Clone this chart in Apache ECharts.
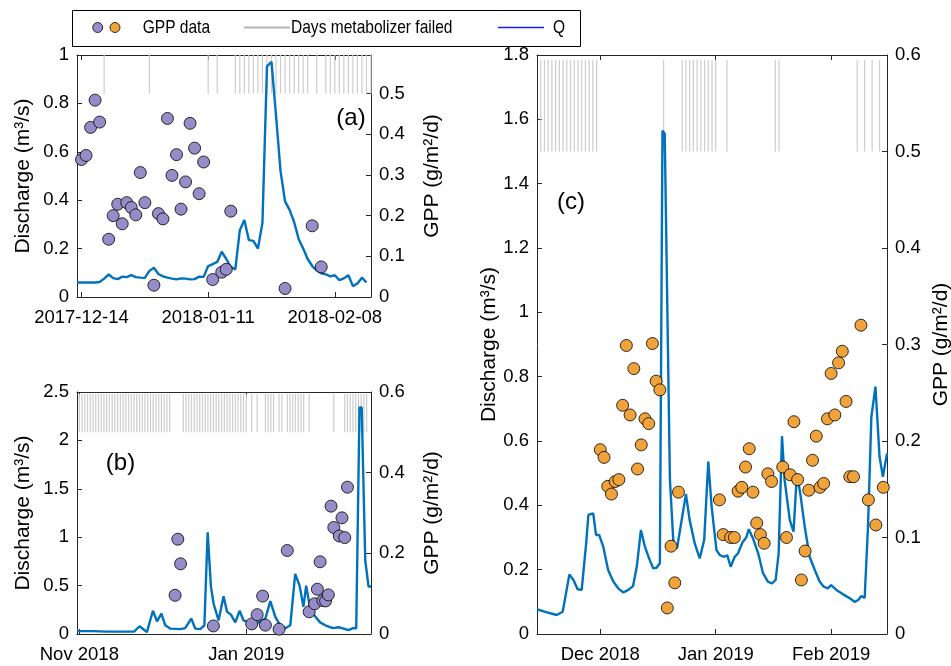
<!DOCTYPE html>
<html>
<head>
<meta charset="utf-8">
<script src="https://cdn.jsdelivr.net/npm/echarts@6.0.0/dist/echarts.min.js"></script>
<style>
  html, body { margin: 0; padding: 0; background: #ffffff; }
  #chart { width: 951px; height: 666px; }
</style>
</head>
<body>
<div id="chart"></div>
<script>
// ---------- Panel (a): day numbers counted from 2017-12-14 ----------
const A_TICK_DAYS = [0, 28, 56];
const A_TICK_LABELS = ['2017-12-14', '2018-01-11', '2018-02-08'];
const A_Q_FIRST_DAY = -1;   // daily discharge, first value is 2017-12-13
const A_Q = [0.060, 0.060, 0.060, 0.060, 0.060, 0.062, 0.076, 0.093, 0.078, 0.074,
             0.084, 0.082, 0.090, 0.082, 0.080, 0.079, 0.108, 0.121, 0.095, 0.085,
             0.080, 0.076, 0.073, 0.077, 0.076, 0.073, 0.074, 0.084, 0.083, 0.128,
             0.136, 0.145, 0.187, 0.157, 0.125, 0.114, 0.276, 0.318, 0.235, 0.232,
             0.200, 0.307, 0.953, 0.972, 0.750, 0.520, 0.395, 0.360, 0.310, 0.240,
             0.200, 0.157, 0.128, 0.110, 0.098, 0.094, 0.085, 0.090, 0.070, 0.077,
             0.090, 0.045, 0.056, 0.080, 0.060];
const A_GPP_DAYS = [0, 1, 2, 3, 4, 6, 7, 8, 9, 10, 11, 12, 13, 14, 16, 17, 18, 19, 20, 21,
                    22, 23, 24, 25, 26, 27, 29, 31, 32, 33, 45, 51, 53];
const A_GPP = [0.338, 0.348, 0.417, 0.484, 0.430, 0.142, 0.200, 0.228, 0.180, 0.232,
               0.220, 0.202, 0.306, 0.232, 0.029, 0.205, 0.192, 0.439, 0.299, 0.350,
               0.216, 0.283, 0.427, 0.366, 0.254, 0.332, 0.043, 0.061, 0.068, 0.211,
               0.021, 0.175, 0.074];
const A_FAILED_DAYS = [5, 15, 28, 30, 34, 35, 36, 37, 38, 39, 40, 41, 42, 43, 44, 45, 46,
                       47, 48, 49, 50, 52, 54, 55, 56, 57, 58, 59, 60, 61, 62, 63, 64];

// ---------- Panel (b): day numbers counted from 2018-11-01 ----------
const B_TICK_DAYS = [0, 61];
const B_TICK_LABELS = ['Nov 2018', 'Jan 2019'];
const B_Q_DAYS = [-0.8, 5, 10, 15, 20, 22, 24.7, 26.9, 28.4, 30, 31.4, 33.3, 36.9, 38.7,
                  40.9, 42.4, 44.2, 45.7, 46.9, 48.1, 49.1, 50.9, 52.7, 54, 55.4, 57, 58.6,
                  60, 61.9, 63.7, 65.5, 68, 69.8, 71.6, 73.4, 75.3, 77.1, 78.9, 80.5, 81.9,
                  82.9, 84.4, 86.2, 88, 89.9, 91.7, 92.9, 94.7, 96.6, 98.4, 100, 101.2,
                  102.4, 103.2, 104.5, 105.7, 106.6];
const B_Q = [0.03, 0.03, 0.025, 0.025, 0.025, 0.08, 0.02, 0.24, 0.13, 0.21, 0.09, 0.055,
             0.05, 0.06, 0.16, 0.055, 0.05, 0.09, 1.05, 0.49, 0.31, 0.14, 0.39, 0.23, 0.2,
             0.12, 0.24, 0.14, 0.12, 0.11, 0.12, 0.16, 0.34, 0.18, 0.09, 0.06, 0.09, 0.62,
             0.5, 0.28, 0.5, 0.26, 0.18, 0.12, 0.09, 0.07, 0.06, 0.07, 0.055, 0.04, 0.06,
             0.06, 2.34, 2.34, 0.76, 0.49, 0.49];
const B_GPP_DAYS = [35, 36, 37, 49, 63, 65, 67, 68, 73, 76, 84, 86, 87, 88, 89, 90, 91, 92,
                    93, 95, 96, 97, 98];
const B_GPP = [0.096, 0.235, 0.174, 0.020, 0.025, 0.048, 0.094, 0.022, 0.012, 0.207,
               0.055, 0.075, 0.111, 0.179, 0.083, 0.082, 0.097, 0.317, 0.264, 0.243,
               0.288, 0.239, 0.364];
const B_FAILED_DAYS = [0, 1, 2, 3, 4, 5, 6, 7, 8, 9, 10, 11, 12, 13, 14, 15, 16, 17, 18, 19,
                       20, 21, 22, 23, 24, 25, 26, 27, 28, 29, 30, 31, 32, 33,
                       38, 39, 40, 41, 42, 43, 44, 45, 46, 47, 48, 49, 50, 51, 52, 53, 54,
                       55, 56, 57, 58, 59, 60, 61, 63, 65, 68, 69, 70, 71, 73, 74, 76, 77,
                       78, 79, 80, 81, 82, 84, 93, 97, 98, 99, 100, 101, 102, 103, 104, 105];

// ---------- Panel (c): day numbers counted from 2018-12-01 ----------
const C_TICK_DAYS = [0, 31, 62];
const C_TICK_LABELS = ['Dec 2018', 'Jan 2019', 'Feb 2019'];
const C_Q_DAYS = [-17, -14.8, -11.7, -10.1, -8.3, -7.2, -6.1, -5.0, -3.8, -3.2, -2.5, -1.9,
                  -1.15, -0.3, 0.8, 2.1, 3.5, 4.8, 6.2, 7.5, 8.8, 9.8, 10.9, 12.0, 13.1,
                  14.2, 15.1, 16.0, 16.7, 17.3, 18.7, 19.6, 20.6, 23.0, 24.0, 25.4, 26.7,
                  27.9, 29.0, 29.9, 31.2, 32.1, 33.3, 34.1, 35.0, 36.1, 37.0, 38.2, 39.2,
                  39.9, 41.0, 42.4, 43.7, 45.0, 46.1, 47.1, 47.9, 48.8, 49.5, 50.9, 51.9,
                  52.8, 53.7, 54.9, 56.2, 57.6, 58.9, 60.0, 61.1, 62.0, 63.4, 65.1, 67.0,
                  68.3, 69.2, 70.1, 71.0, 71.9, 72.8, 73.9, 75.0, 75.9, 77.0];
const C_Q = [0.077, 0.069, 0.059, 0.069, 0.185, 0.168, 0.139, 0.137, 0.282, 0.370, 0.373,
             0.375, 0.308, 0.308, 0.271, 0.199, 0.163, 0.142, 0.129, 0.137, 0.149, 0.209,
             0.323, 0.271, 0.235, 0.204, 0.206, 0.220, 1.565, 1.555, 0.479, 0.292, 0.266,
             0.435, 0.354, 0.280, 0.235, 0.292, 0.536, 0.396, 0.261, 0.245, 0.240, 0.245,
             0.209, 0.240, 0.251, 0.285, 0.300, 0.326, 0.297, 0.251, 0.189, 0.163, 0.157,
             0.168, 0.251, 0.615, 0.479, 0.354, 0.318, 0.499, 0.437, 0.334, 0.241, 0.199,
             0.163, 0.147, 0.142, 0.152, 0.137, 0.124, 0.111, 0.100, 0.105, 0.118, 0.112,
             0.334, 0.675, 0.769, 0.551, 0.489, 0.561];
const C_GPP_DAYS = [0, 1, 2, 3, 4, 5, 6, 7, 8, 9, 10, 11, 12, 13, 14, 15, 16, 18, 19, 20, 21,
                    32, 33, 35, 36, 37, 38, 39, 40, 41, 42, 43, 44, 45, 46, 49, 50, 51, 52,
                    53, 54, 55, 56, 57, 58, 59, 60, 61, 62, 63, 64, 65, 66, 67, 68, 70, 72,
                    74, 76];
const C_GPP = [0.191, 0.183, 0.153, 0.145, 0.158, 0.160, 0.237, 0.299, 0.227, 0.275, 0.171,
               0.196, 0.223, 0.218, 0.301, 0.262, 0.253, 0.027, 0.091, 0.053, 0.147, 0.139,
               0.103, 0.100, 0.100, 0.148, 0.152, 0.173, 0.192, 0.147, 0.115, 0.103, 0.094,
               0.166, 0.158, 0.173, 0.100, 0.165, 0.220, 0.160, 0.056, 0.086, 0.149, 0.180,
               0.205, 0.152, 0.156, 0.223, 0.270, 0.227, 0.281, 0.293, 0.241, 0.163, 0.163,
               0.320, 0.139, 0.113, 0.152];
const C_FAILED_DAYS = [-16, -15, -14, -13, -12, -11, -10, -9, -8, -7, -6, -5, -4, -3, -2, -1,
                       17, 22, 23, 24, 25, 26, 27, 28, 29, 30, 31, 34, 47, 48, 69, 71, 73, 75];

// Failed-day markers span this band of the GPP axis
const FAILED_FROM = 0.5;
const FAILED_TO = 0.595;

// ---------- styling ----------
const FONT = "'Liberation Sans', Arial, Helvetica, sans-serif";
const AXIS_COLOR = '#262626';
const TEXT_COLOR = '#000000';
const Q_COLOR = '#0072bd';
const FAILED_COLOR = '#cdcdcd';
const PURPLE = '#968cc8';
const ORANGE = '#f0a33a';

function bottomAxis(g, min, max, ticks, labels) {
  return {
    type: 'value', gridIndex: g, position: 'bottom', min: min, max: max,
    axisLine: { show: true, onZero: false, lineStyle: { color: AXIS_COLOR, width: 1 } },
    axisTick: { show: true, inside: true, length: 5, customValues: ticks,
                lineStyle: { color: AXIS_COLOR, width: 1 } },
    axisLabel: { show: true, customValues: ticks, margin: 11, fontSize: 18.5,
                 fontFamily: FONT, color: TEXT_COLOR,
                 formatter: function (v) { const i = ticks.indexOf(v); return i >= 0 ? labels[i] : ''; } },
    splitLine: { show: false }
  };
}

function topAxis(g, min, max, ticks) {
  return {
    type: 'value', gridIndex: g, position: 'top', min: min, max: max,
    axisLine: { show: true, onZero: false, lineStyle: { color: AXIS_COLOR, width: 1 } },
    axisTick: { show: true, inside: true, length: 5, customValues: ticks,
                lineStyle: { color: AXIS_COLOR, width: 1 } },
    axisLabel: { show: false },
    splitLine: { show: false }
  };
}

function yAxisOf(g, side, max, interval, name, gap, hideMax) {
  return {
    type: 'value', gridIndex: g, position: side, min: 0, max: max, interval: interval,
    name: name, nameLocation: 'middle', nameGap: gap,
    nameTextStyle: { fontSize: 21, fontFamily: FONT, color: TEXT_COLOR },
    axisLine: { show: true, onZero: false, lineStyle: { color: AXIS_COLOR, width: 1 } },
    axisTick: { show: true, inside: true, length: 5, lineStyle: { color: AXIS_COLOR, width: 1 } },
    axisLabel: { show: true, margin: 8, fontSize: 18.5, fontFamily: FONT, color: TEXT_COLOR,
                 showMaxLabel: hideMax ? false : null },
    splitLine: { show: false }
  };
}

function pairs(days, vals) { return days.map(function (d, i) { return [d, vals[i]]; }); }

function failedData(days) {
  const out = [];
  days.forEach(function (d) { out.push([d, FAILED_FROM], [d, FAILED_TO], [d, '-']); });
  return out;
}

function panelSeries(xIdx, yLeft, yRight, qData, gppData, failedDays, dotColor) {
  return [
    { type: 'line', xAxisIndex: xIdx, yAxisIndex: yRight, data: failedData(failedDays),
      symbol: 'none', connectNulls: false, silent: true, z: 1,
      lineStyle: { color: FAILED_COLOR, width: 1.2 } },
    { type: 'line', xAxisIndex: xIdx, yAxisIndex: yLeft, data: qData,
      symbol: 'none', showSymbol: false, silent: true, z: 2,
      lineStyle: { color: Q_COLOR, width: 2.4 } },
    { type: 'scatter', xAxisIndex: xIdx, yAxisIndex: yRight, data: gppData,
      symbol: 'circle', symbolSize: 12, silent: true, z: 3,
      itemStyle: { color: dotColor, borderColor: '#000000', borderWidth: 0.8, opacity: 1 } }
  ];
}

const aQData = A_Q.map(function (q, i) { return [A_Q_FIRST_DAY + i, q]; });

const legendY = 27.5;
const legendText = function (x, txt) {
  return { type: 'text', x: x, y: legendY, scaleX: 0.84,
           style: { text: txt, fontSize: 18.5, fontFamily: FONT, fill: TEXT_COLOR,
                    align: 'left', verticalAlign: 'middle' } };
};
const panelLabel = function (x, y, txt) {
  return { type: 'text', x: x, y: y, z: 10,
           style: { text: txt, fontSize: 24, fontFamily: FONT, fill: TEXT_COLOR,
                    align: 'center', verticalAlign: 'middle' } };
};

const option = {
  animation: false,
  backgroundColor: '#ffffff',
  grid: [
    { left: 77, top: 55, width: 294, height: 242, outerBoundsMode: 'none', containLabel: false },
    { left: 77, top: 392, width: 294, height: 242, outerBoundsMode: 'none', containLabel: false },
    { left: 537, top: 55, width: 350, height: 579, outerBoundsMode: 'none', containLabel: false }
  ],
  xAxis: [
    bottomAxis(0, -1, 64, A_TICK_DAYS, A_TICK_LABELS),
    topAxis(0, -1, 64, A_TICK_DAYS),
    bottomAxis(1, -0.85, 106.6, B_TICK_DAYS, B_TICK_LABELS),
    topAxis(1, -0.85, 106.6, B_TICK_DAYS),
    bottomAxis(2, -17, 77, C_TICK_DAYS, C_TICK_LABELS),
    topAxis(2, -17, 77, C_TICK_DAYS)
  ],
  yAxis: [
    yAxisOf(0, 'left', 1, 0.2, 'Discharge (m³/s)', 43, false),
    yAxisOf(0, 'right', FAILED_TO, 0.1, 'GPP (g/m²/d)', 51, true),
    yAxisOf(1, 'left', 2.5, 0.5, 'Discharge (m³/s)', 43, false),
    yAxisOf(1, 'right', 0.6, 0.2, 'GPP (g/m²/d)', 51, false),
    yAxisOf(2, 'left', 1.8, 0.2, 'Discharge (m³/s)', 37, false),
    yAxisOf(2, 'right', 0.6, 0.1, 'GPP (g/m²/d)', 44, false)
  ],
  series: [].concat(
    panelSeries(0, 0, 1, aQData, pairs(A_GPP_DAYS, A_GPP), A_FAILED_DAYS, PURPLE),
    panelSeries(2, 2, 3, pairs(B_Q_DAYS, B_Q), pairs(B_GPP_DAYS, B_GPP), B_FAILED_DAYS, PURPLE),
    panelSeries(4, 4, 5, pairs(C_Q_DAYS, C_Q), pairs(C_GPP_DAYS, C_GPP), C_FAILED_DAYS, ORANGE)
  ),
  graphic: [
    // shared legend box
    { type: 'rect', shape: { x: 72.5, y: 10.5, width: 508, height: 36 },
      style: { fill: '#ffffff', stroke: '#000000', lineWidth: 1 }, z: 5 },
    { type: 'circle', shape: { cx: 97.7, cy: legendY, r: 5 },
      style: { fill: PURPLE, stroke: '#000000', lineWidth: 0.8 }, z: 6 },
    { type: 'circle', shape: { cx: 115, cy: legendY, r: 5 },
      style: { fill: ORANGE, stroke: '#000000', lineWidth: 0.8 }, z: 6 },
    Object.assign(legendText(142.7, 'GPP data'), { z: 6 }),
    { type: 'line', shape: { x1: 244, y1: legendY, x2: 290, y2: legendY },
      style: { stroke: '#b4b4b4', lineWidth: 2 }, z: 6 },
    Object.assign(legendText(291, 'Days metabolizer failed'), { z: 6 }),
    { type: 'line', shape: { x1: 498, y1: legendY, x2: 544, y2: legendY },
      style: { stroke: '#1a1aff', lineWidth: 1.6 }, z: 6 },
    Object.assign(legendText(553, 'Q'), { z: 6 }),
    // panel tags
    panelLabel(351, 118, '(a)'),
    panelLabel(120.5, 463.5, '(b)'),
    panelLabel(571, 202, '(c)')
  ]
};

const chart = echarts.init(document.getElementById('chart'), null, { renderer: 'canvas' });
chart.setOption(option);
</script>
</body>
</html>
